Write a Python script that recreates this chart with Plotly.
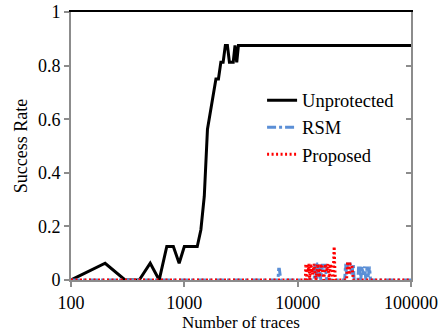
import plotly.graph_objects as go

# Unprotected series
unp_x = [100, 200, 300, 400, 500, 600, 700, 800, 900, 1000, 1100, 1200, 1300, 1400, 1500,
         1600, 1700, 1800, 1900, 2000, 2100, 2200, 2300, 2400, 2500, 2600, 2700, 2800,
         2900, 3000, 5000, 10000, 20000, 50000, 100000]
unp_y = [0, 0.0625, 0, 0, 0.0625, 0, 0.125, 0.125, 0.0625, 0.125, 0.125, 0.125, 0.125, 0.1875, 0.3125,
         0.5625, 0.625, 0.6875, 0.75, 0.75, 0.8125, 0.8125, 0.875, 0.875, 0.8125, 0.8125, 0.8125, 0.875,
         0.8125, 0.875, 0.875, 0.875, 0.875, 0.875, 0.875]

# RSM series
rsm_x = [100, 1000, 6700, 6800, 6900, 7000, 7100, 10000, 14000, 14200, 14400, 14600, 14800, 15000,
         15500, 16000, 16500, 17000, 17500, 18000, 26000, 26500, 27000, 27500, 28000, 29000, 30000,
         31000, 31500, 34000, 34500, 35000, 35500, 36000, 37000, 38000, 39000, 40000, 41000, 42000,
         43000, 44000, 100000]
rsm_y = [0, 0, 0, 0.04, 0.04, 0.02, 0, 0, 0, 0.06, 0.02, 0.06, 0, 0.06,
         0.06, 0, 0.06, 0.03, 0.06, 0, 0, 0.06, 0.02, 0.06, 0.06, 0.06, 0.02,
         0.06, 0, 0, 0.05, 0.02, 0.05, 0, 0.05, 0.02, 0.05, 0, 0.05, 0.01,
         0.05, 0, 0]

# Proposed series
prop_x = [100, 1000, 10000, 11700, 11800, 12000, 12200, 12400, 12600, 12800, 13000, 13200, 13500,
          14000, 14500, 15000, 15500, 16000, 16500, 17000, 17500, 18000, 18500, 19000, 19500,
          20000, 20500, 21000, 21200, 21500, 27000, 27500, 28000, 28500, 29000, 29500, 30000,
          30500, 31000, 100000]
prop_y = [0, 0, 0, 0, 0.06, 0, 0.06, 0.03, 0.06, 0, 0.06, 0.05, 0.02,
          0.06, 0, 0.06, 0.01, 0.06, 0.04, 0, 0.06, 0.03, 0.06, 0, 0.06,
          0.04, 0, 0.125, 0.06, 0, 0, 0.06, 0.06, 0.02, 0.06, 0.06, 0.06,
          0.03, 0, 0]

y_ticks = [0, 0.2, 0.4, 0.6, 0.8, 1]
y_labels = ["0", "0.2", "0.4", "0.6", "0.8", "1"]
x_ticks = [100, 1000, 10000, 100000]
x_labels = ["100", "1000", "10000", "100000"]

FONT = "Liberation Serif"
AX = "#8c8c8c"

fig = go.Figure()
fig.add_trace(go.Scatter(x=unp_x, y=unp_y, mode="lines", name="Unprotected",
                         line=dict(color="black", width=3), cliponaxis=False))
fig.add_trace(go.Scatter(x=rsm_x, y=rsm_y, mode="lines", name="RSM",
                         line=dict(color="#5b8fd6", width=3, dash="dashdot"), cliponaxis=False))
fig.add_trace(go.Scatter(x=prop_x, y=prop_y, mode="lines", name="Proposed",
                         line=dict(color="#ff0000", width=3, dash="2px,2.5px"), cliponaxis=False))
# empty trace so the frame axes (right, top) are drawn
fig.add_trace(go.Scatter(x=[], y=[], xaxis="x2", yaxis="y2", showlegend=False, hoverinfo="skip"))

fig.update_layout(
    width=444, height=332,
    margin=dict(l=71, r=33, t=12, b=52),
    paper_bgcolor="white", plot_bgcolor="white",
    font=dict(family=FONT, size=18, color="black"),
    showlegend=True,
    legend=dict(x=0.562, y=0.74, xanchor="left", yanchor="top",
                bgcolor="rgba(0,0,0,0)", font=dict(family=FONT, size=18.5),
                itemwidth=30, tracegroupgap=0),
    xaxis=dict(type="log", range=[2, 5], tickvals=x_ticks, ticktext=x_labels,
               showgrid=False, zeroline=False, showline=True, linecolor=AX, linewidth=2,
               ticks="outside", ticklen=5, tickcolor=AX, tickwidth=2,
               layer="below traces", automargin=False,
               title=dict(text="Number of traces", font=dict(family=FONT, size=17), standoff=0)),
    xaxis2=dict(overlaying="x", side="top", range=[0, 1], showticklabels=False, ticks="",
                showgrid=False, zeroline=False, showline=True, linecolor="black", linewidth=2,
                layer="below traces"),
    yaxis=dict(range=[0, 1], tickvals=y_ticks, ticktext=y_labels,
               showgrid=False, zeroline=False, showline=True, linecolor=AX, linewidth=2,
               ticks="outside", ticklen=5, tickcolor=AX, tickwidth=2,
               layer="below traces", automargin=False,
               title=dict(text="Success Rate", font=dict(family=FONT, size=18), standoff=6)),
    yaxis2=dict(range=[0, 1], overlaying="y", side="right", tickvals=y_ticks,
                showticklabels=False, showgrid=False, zeroline=False, showline=True,
                linecolor=AX, linewidth=2, ticks="inside", ticklen=5,
                tickcolor=AX, tickwidth=2, layer="below traces"),
)

fig.write_html("out.html", config={"displayModeBar": False, "staticPlot": True},
               post_script="document.body.style.margin='0';document.body.style.overflow='hidden';")
